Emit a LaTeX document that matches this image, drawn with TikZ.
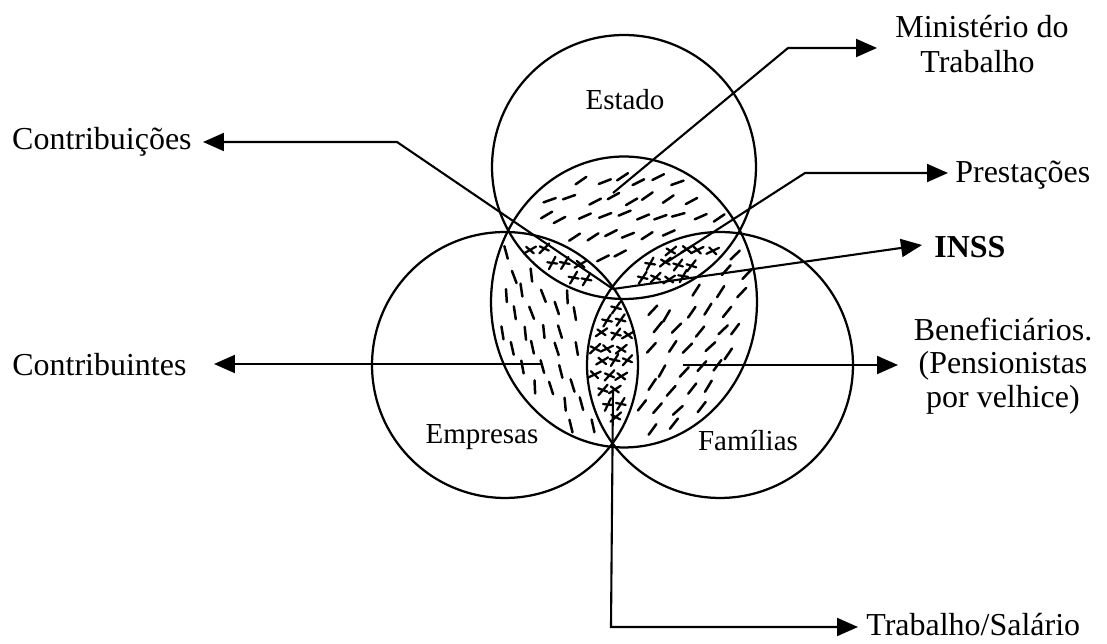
\documentclass[tikz,border=0pt]{standalone}
\usepackage{fontspec}
\setmainfont{Liberation Serif}
\usetikzlibrary{arrows.meta}
\begin{document}
\begin{tikzpicture}[x=0.02cm,y=-0.02cm,
  shapeline/.style={line width=0.045cm},
  conn/.style={line width=0.042cm},
  arr/.style={conn,-{Triangle[length=0.42cm,width=0.36cm]}},
  biglbl/.style={font=\fontsize{18.2}{21}\selectfont, inner sep=0pt},
  inlbl/.style={font=\fontsize{16.5}{19}\selectfont, inner sep=0pt},
  hatch/.style={line width=0.05cm, line cap=round},
]
\useasboundingbox (0,0) rectangle (1107,644);

% ---- hatching (drawn first) ----
\pgfmathsetseed{11}
% dashes in the middle ellipse, outside the lenses
\foreach \i in {0,...,13}{
  \foreach \j in {0,...,15}{
    \pgfmathsetmacro\px{495+\i*19.5+mod(\j,2)*10+rnd*8-4}
    \pgfmathsetmacro\py{160+\j*19+rnd*8-4}
    \pgfmathsetmacro\dM{sqrt(((\px-624)/133)^2+((\py-302)/145.5)^2)}
    \pgfmathsetmacro\dE{sqrt(((\px-624)/132)^2+((\py-167)/132)^2)}
    \pgfmathsetmacro\dP{sqrt(((\px-505)/133)^2+((\py-365)/133)^2)}
    \pgfmathsetmacro\dF{sqrt(((\px-720)/133)^2+((\py-365)/133)^2)}
    \pgfmathtruncatemacro\ok{(\dM<0.95)&&(abs(\dE-1)>0.055)&&(abs(\dP-1)>0.055)&&(abs(\dF-1)>0.055)}
    \pgfmathtruncatemacro\nin{(\dE<1)+(\dP<1)+(\dF<1)}
    \ifnum\ok=1
      \ifnum\nin=1
        \pgfmathsetmacro\ang{(\dE<1 ? -25 : (\dP<1 ? 78 : -52))+rnd*20-10}
        \pgfmathsetmacro\angb{\ang+180}
        \draw[hatch] (\px,\py) +(\ang:6.5) -- +(\angb:6.5);
      \fi
    \fi
  }
}
% crosses in the lenses
\foreach \i in {0,...,17}{
  \foreach \j in {0,...,15}{
    \pgfmathsetmacro\px{503+\i*14+mod(\j,2)*7+rnd*4-2}
    \pgfmathsetmacro\py{222+\j*14+rnd*4-2}
    \pgfmathsetmacro\dM{sqrt(((\px-624)/133)^2+((\py-302)/145.5)^2)}
    \pgfmathsetmacro\dE{sqrt(((\px-624)/132)^2+((\py-167)/132)^2)}
    \pgfmathsetmacro\dP{sqrt(((\px-505)/133)^2+((\py-365)/133)^2)}
    \pgfmathsetmacro\dF{sqrt(((\px-720)/133)^2+((\py-365)/133)^2)}
    \pgfmathtruncatemacro\ok{(\dM<0.97)&&(abs(\dE-1)>0.045)&&(abs(\dP-1)>0.045)&&(abs(\dF-1)>0.045)}
    \pgfmathtruncatemacro\nin{(\dE<1)+(\dP<1)+(\dF<1)}
    \ifnum\ok=1
      \ifnum\nin>1
        \pgfmathsetmacro\ang{-65+rnd*40}
        \pgfmathsetmacro\angb{\ang+180}
        \pgfmathsetmacro\angc{\ang+70}
        \pgfmathsetmacro\angd{\ang+250}
        \draw[hatch,line width=0.045cm] (\px,\py) +(\ang:7) -- +(\angb:7)
                                         (\px,\py) +(\angc:5) -- +(\angd:5);
      \fi
    \fi
  }
}

% ---- the four shapes ----
\draw[shapeline] (624,167) circle[radius=2.64cm];            % Estado
\draw[shapeline] (505,365) circle[radius=2.66cm];            % Empresas
\draw[shapeline] (720,365) circle[radius=2.66cm];            % Familias
\draw[shapeline] (624,302) ellipse[x radius=2.66cm, y radius=2.91cm]; % middle

% ---- labels inside ----
\node[inlbl] (estado) at (625,100) {Estado};
\node[inlbl] (empresas) at (482,437) {Empresas};
\node[inlbl] (familias) at (748,441) {Famílias};

% ---- key points ----
\coordinate (ctr) at (613,289);
\coordinate (bot) at (613,445);
\coordinate (mstart) at (613,193);
\coordinate (mcorner) at (788,48);
\coordinate (mtip) at (877,48);
\coordinate (pstart) at (667,262);
\coordinate (pcorner) at (805,173);
\coordinate (ptip) at (948,173);
\coordinate (itip) at (922,245);
\coordinate (bstart) at (683,365);
\coordinate (btip) at (898,365);
\coordinate (cbstart) at (541,364);
\coordinate (cbtip) at (214,364);
\coordinate (ccorner) at (397,142);
\coordinate (cctip) at (203,142);
\coordinate (tstart) at (613,390);
\coordinate (tcorner) at (611,627);
\coordinate (ttip) at (858,627);

% ---- outer labels ----
\node[biglbl, anchor=west, align=left] (minist) at (895,44)
  {Ministério do\\[-1pt]\hspace*{0.5cm}Trabalho};
\node[biglbl, anchor=west] (prest) at (955,175) {Prestações};
\node[biglbl, anchor=west, font=\fontsize{18.2}{21}\selectfont\bfseries] (inss) at (934,247) {INSS};
\node[biglbl, align=center] (benef) at (1003,366)
  {Beneficiários.\\[-2pt](Pensionistas\\[-2pt]por velhice)};
\node[biglbl, anchor=east] (contrib) at (192,142) {Contribuições};
\node[biglbl, anchor=west] (contribtes) at (12,365) {Contribuintes};
\node[biglbl, anchor=west] (trab) at (866,625) {Trabalho/Salário};

% ---- connectors ----
\draw[arr] (mstart) -- (mcorner) -- (mtip);
\draw[arr] (pstart) -- (pcorner) -- (ptip);
\draw[arr] (ctr) -- (itip);
\draw[arr] (bstart) -- (btip);
\draw[arr] (cbstart) -- (cbtip);
\draw[arr] (ctr) -- (ccorner) -- (cctip);
\draw[arr] (tstart) -- (tcorner) -- (ttip);
\end{tikzpicture}
\end{document}
